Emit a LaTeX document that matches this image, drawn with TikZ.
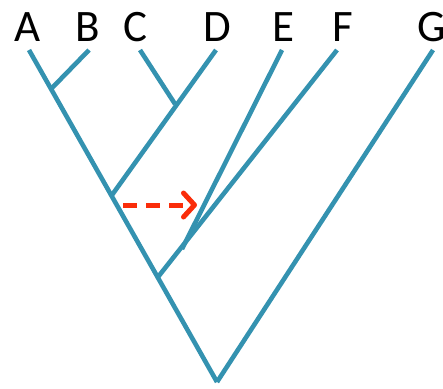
\documentclass[tikz,border=0pt]{standalone}
\usepackage{fontspec}
\setmainfont{Carlito}
\usetikzlibrary{arrows.meta}
\definecolor{branch}{RGB}{52,146,176}
\definecolor{moveR}{RGB}{250,45,10}
\tikzset{
  br/.style={draw=branch, line width=4.6pt, line cap=butt},
  lab/.style={anchor=base, inner sep=0pt, font=\fontsize{45}{45}\selectfont},
  mv/.style={draw=moveR, line width=5pt, dash pattern=on 14pt off 9pt,
    -{Straight Barb[length=11pt,width=24pt,line width=5pt,round]}}
}
\begin{document}
\begin{tikzpicture}[x=1pt,y=-1pt]
\useasboundingbox (0,0) rectangle (443,388);
% labels
\node[lab] (lA) at (28,41) {A};
\node[lab] (lB) at (88,41) {B};
\node[lab] (lC) at (135,41) {C};
\node[lab] (lD) at (217,41) {D};
\node[lab] (lE) at (283,41) {E};
\node[lab] (lF) at (343,41) {F};
\node[lab] (lG) at (432,41) {G};
% tips
\coordinate (A) at (29,50);
\coordinate (B) at (89,50);
\coordinate (C) at (140,50);
\coordinate (D) at (216,50);
\coordinate (E) at (282,50);
\coordinate (F) at (337,50);
\coordinate (G) at (433,50);
% internal nodes
\coordinate (root) at (217,382);
\coordinate (ab) at (52,88);
\coordinate (cd) at (175,104);
\coordinate (abcd) at (112,195);
\coordinate (ef) at (158,277);
\coordinate (e) at (182,249);
% branches
\draw[br] (root) -- (A);
\draw[br] (ab) -- (B);
\draw[br] (abcd) -- (D);
\draw[br] (cd) -- (C);
\draw[br] (ef) -- (F);
\draw[br] (e) -- (E);
\draw[br] (root) -- (G);
% arrow
\coordinate (s) at (123,205);
\coordinate (t) at (197,205);
\draw[mv] (s) -- (t);
\end{tikzpicture}
\end{document}
